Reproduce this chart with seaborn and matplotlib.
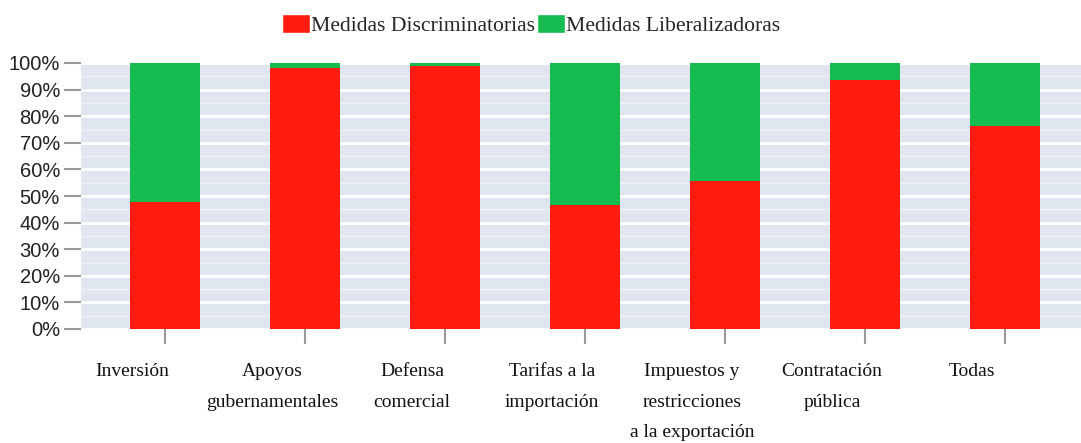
import numpy as np
import pandas as pd
import matplotlib.pyplot as plt
import matplotlib.transforms as mtransforms
from matplotlib.patches import Patch
import seaborn as sns

categorias = ['Inversión', 'Apoyos\ngubernamentales', 'Defensa\ncomercial',
              'Tarifas a la\nimportación', 'Impuestos y\nrestricciones\na la exportación',
              'Contratación\npública', 'Todas']
discriminatorias = [47.9, 98.3, 98.8, 46.7, 55.5, 93.7, 76.4]
liberalizadoras = [52.1, 1.7, 1.2, 53.3, 44.5, 6.3, 23.6]

rojo = '#ff1b10'
verde = '#15bb4f'
fondo = '#dfe6f0'

df = pd.DataFrame({'categoria': categorias,
                   'disc': discriminatorias,
                   'lib': liberalizadoras})
df['total'] = df['disc'] + df['lib']

sns.set_style('white')
fig = plt.figure(figsize=(10.81, 4.43), dpi=100)
ax = fig.add_axes([81 / 1081, 1 - 329 / 443, 1000 / 1081, 266 / 443])
ax.set_facecolor(fondo)

# stacked: full bar in green, red portion drawn on top
sns.barplot(data=df, x='categoria', y='total', color=verde, width=0.5,
            saturation=1, linewidth=0, ax=ax, zorder=3)
sns.barplot(data=df, x='categoria', y='disc', color=rojo, width=0.5,
            saturation=1, linewidth=0, ax=ax, zorder=3)

ax.set_xlim(-0.6, 6.543)
ax.set_ylim(0, 100)
ax.set_yticks(np.arange(0, 101, 10))
ax.set_yticklabels([f'{v}%' for v in range(0, 101, 10)],
                   fontsize=14.5, family='Liberation Sans', color='#222222')
ax.set_yticks(np.arange(5, 100, 10), minor=True)
ax.grid(axis='y', which='major', color='white', linewidth=2, zorder=0)
ax.grid(axis='y', which='minor', color='white', linewidth=1, alpha=0.5, zorder=0)
ax.set_axisbelow(True)
ax.set_xlabel('')
ax.set_ylabel('')
for s in ax.spines.values():
    s.set_visible(False)

# tick sizes in points (1 px = 0.72 pt at 100 dpi)
ax.tick_params(axis='y', which='major', length=12.2, width=1.5, color='#999999', pad=3, left=True)
ax.tick_params(axis='y', which='minor', length=0)
ax.tick_params(axis='x', length=11, width=1.5, color='#999999', pad=13.5, bottom=True)
ax.set_xticks(range(len(categorias)))
ax.set_xticklabels(categorias, fontsize=14, family='Liberation Serif',
                   color='#111111', linespacing=2.05, va='top')
shift = mtransforms.ScaledTranslation(-33 / 100, 0, fig.dpi_scale_trans)
for lab in ax.get_xticklabels():
    lab.set_transform(lab.get_transform() + shift)

handles = [Patch(facecolor=rojo, label='Medidas Discriminatorias'),
           Patch(facecolor=verde, label='Medidas Liberalizadoras')]
fig.legend(handles=handles, loc='center', bbox_to_anchor=(531 / 1081, 1 - 25 / 443),
           ncol=2, frameon=False, prop={'family': 'Liberation Serif', 'size': 15.6},
           handlelength=1.3, handleheight=1.0, handletextpad=0.05,
           columnspacing=0.1, borderpad=0)

fig.savefig('out.png', dpi=100)
